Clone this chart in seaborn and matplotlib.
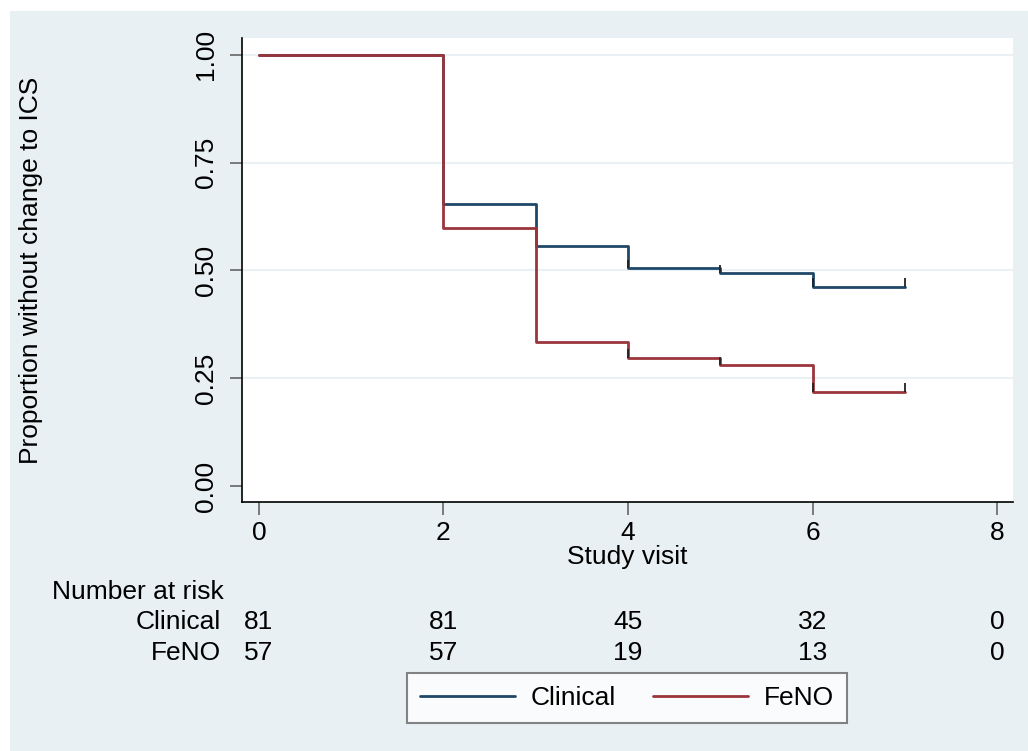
import numpy as np
import pandas as pd
import seaborn as sns
import matplotlib.pyplot as plt
from matplotlib.patches import Rectangle
from matplotlib.lines import Line2D
import matplotlib.transforms as mtransforms

# step times and survival estimates
visits = [0, 2, 3, 4, 5, 6, 7]
clinical_surv = [1.00, 0.655, 0.557, 0.505, 0.493, 0.462, 0.462]
feno_surv = [1.00, 0.598, 0.334, 0.298, 0.280, 0.218, 0.218]
censor_visits = [4, 5, 6, 7]

risk_times = [0, 2, 4, 6, 8]
clinical_risk = [81, 81, 45, 32, 0]
feno_risk = [57, 57, 19, 13, 0]

groups = ["Clinical", "FeNO"]
colors = {"Clinical": "#1f4868", "FeNO": "#9a353c"}

df = pd.DataFrame({
    "visit": visits * 2,
    "surv": clinical_surv + feno_surv,
    "group": ["Clinical"] * len(visits) + ["FeNO"] * len(visits),
})

sns.set_theme(style="white")
plt.rcParams["font.family"] = ["Liberation Sans", "DejaVu Sans"]
plt.rcParams["text.color"] = "black"
plt.rcParams["axes.labelcolor"] = "black"
plt.rcParams["xtick.color"] = "black"
plt.rcParams["ytick.color"] = "black"
FS = 19

fig = plt.figure(figsize=(10.28, 7.51), dpi=100)
fig.patch.set_facecolor("white")
fig.add_artist(Rectangle((10 / 1028, 0), 1, 1 - 11 / 751, transform=fig.transFigure,
                         facecolor="#e8f0f3", edgecolor="none", zorder=-10))

ax = fig.add_axes([242 / 1028, 1 - 502 / 751, 771 / 1028, 464 / 751])
ax.set_facecolor("white")

for y in [0.25, 0.5, 0.75, 1.0]:
    ax.axhline(y, color="#e9f1f4", lw=1.5, zorder=0)

sns.lineplot(data=df, x="visit", y="surv", hue="group", palette=colors,
             drawstyle="steps-post", linewidth=2, legend=False, ax=ax)

# censor marks
for g, surv in zip(groups, [clinical_surv, feno_surv]):
    lookup = dict(zip(visits, surv))
    for t in censor_visits:
        ax.vlines(t, lookup[t], lookup[t] + 0.02, color="#222222", lw=1.3, zorder=3)

ax.set_xlim(-0.184, 8.173)
ax.set_ylim(-0.037, 1.039)
ax.set_xticks(risk_times)
ax.set_yticks([0, 0.25, 0.5, 0.75, 1.0])
ax.set_yticklabels(["0.00", "0.25", "0.50", "0.75", "1.00"], rotation=90, va="center")
ax.tick_params(axis="both", labelsize=FS, length=9, width=1.2, colors="black",
               direction="out", left=True, bottom=True)
ax.tick_params(axis="x", pad=5, color="#666666")
ax.tick_params(axis="y", pad=8, color="#666666")
for s in ["top", "right"]:
    ax.spines[s].set_visible(False)
for s in ["left", "bottom"]:
    ax.spines[s].set_color("black")
    ax.spines[s].set_linewidth(1.2)

ax.set_xlabel("Study visit", fontsize=FS, labelpad=0)
ax.set_ylabel("Proportion without change to ICS", fontsize=FS)
ax.yaxis.set_label_coords((43 - 242) / 771, 0.5)

# number at risk table
trans = mtransforms.blended_transform_factory(ax.transData, fig.transFigure)
fig.text(52 / 1028, 1 - 592 / 751, "Number at risk", fontsize=FS, ha="left", va="center")
for row_y, label, counts in [(622, "Clinical", clinical_risk), (653, "FeNO", feno_risk)]:
    fig.text(221 / 1028, 1 - row_y / 751, label, fontsize=FS, ha="right", va="center")
    for t, n in zip(risk_times, counts):
        ax.text(t, 1 - row_y / 751, str(n), transform=trans, fontsize=FS,
                ha="center", va="center", clip_on=False)

handles = [Line2D([], [], color=colors[g], lw=2) for g in groups]
leg = fig.legend(handles, groups, loc="center", bbox_to_anchor=(627 / 1028, 1 - 698 / 751),
                 ncol=2, fontsize=FS, frameon=True, fancybox=False, handlelength=3.6,
                 handletextpad=0.6, columnspacing=1.4, borderpad=0.5, borderaxespad=0)
leg.get_frame().set_edgecolor("#666666")
leg.get_frame().set_linewidth(1.5)

fig.savefig("out.png", dpi=100)
